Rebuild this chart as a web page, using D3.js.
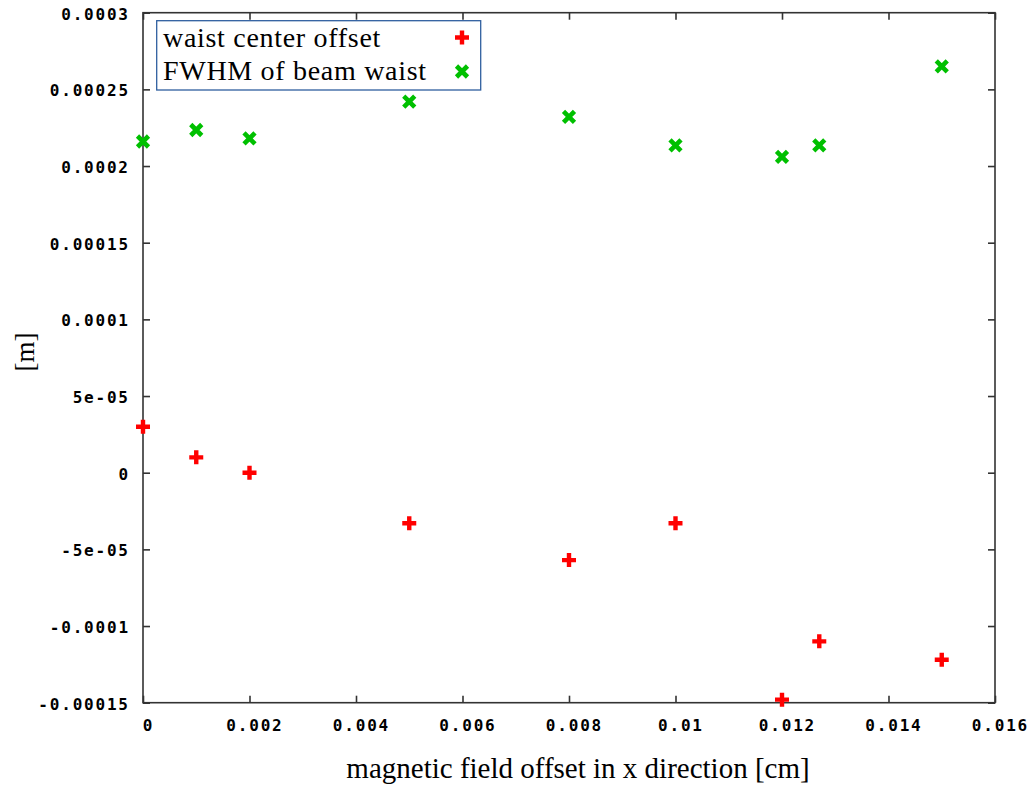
<!DOCTYPE html>
<html>
<head>
<meta charset="utf-8">
<script src="https://cdn.jsdelivr.net/npm/d3@7"></script>
<style>
  html, body { margin: 0; padding: 0; background: #fff; }
  svg { display: block; }
  .tick-label { font-family: "DejaVu Sans Mono", monospace; font-weight: bold; font-size: 16px; letter-spacing: 1.8px; fill: #000; }
  .serif { font-family: "Liberation Serif", "Times New Roman", serif; fill: #000; }
</style>
</head>
<body>
<svg id="chart" width="1031" height="788"></svg>
<script>
// magnetic field offset in x direction [cm]
const offsets = [0, 0.001, 0.002, 0.005, 0.008, 0.01, 0.012, 0.0127, 0.015];
// waist center offset [m]
const centerOffset = [3.0e-5, 1.0e-5, 0, -3.3e-5, -5.7e-5, -3.3e-5, -1.48e-4, -1.10e-4, -1.22e-4];
// FWHM of beam waist [m]
const fwhm = [2.16e-4, 2.235e-4, 2.18e-4, 2.42e-4, 2.32e-4, 2.135e-4, 2.06e-4, 2.135e-4, 2.65e-4];

const xTicks = [0, 0.002, 0.004, 0.006, 0.008, 0.01, 0.012, 0.014, 0.016];
const xTickLabels = ["0", "0.002", "0.004", "0.006", "0.008", "0.01", "0.012", "0.014", "0.016"];
const yTicks = [-0.00015, -0.0001, -0.00005, 0, 0.00005, 0.0001, 0.00015, 0.0002, 0.00025, 0.0003];
const yTickLabels = ["-0.00015", "-0.0001", "-5e-05", "0", "5e-05", "0.0001", "0.00015", "0.0002", "0.00025", "0.0003"];

const seriesNames = ["waist center offset", "FWHM of beam waist"];
const seriesColors = ["#ff0000", "#00c000"];

const svg = d3.select("#chart");
const m = { left: 143, right: 995, top: 12.7, bottom: 702.7 };

const x = d3.scaleLinear().domain([0, 0.016]).range([m.left, m.right]);
const y = d3.scaleLinear().domain([-0.00015, 0.0003]).range([m.bottom, m.top]);

const axisColor = "#333";
const tickLen = 7;

// Frame
svg.append("rect")
  .attr("x", m.left).attr("y", m.top)
  .attr("width", m.right - m.left).attr("height", m.bottom - m.top)
  .attr("fill", "none").attr("stroke", axisColor).attr("stroke-width", 1.6);

// Axes: ticks point inward, mirrored on top and right
const bottomAxis = d3.axisBottom(x).tickValues(xTicks).tickSize(-tickLen).tickFormat((d, i) => xTickLabels[i]).tickPadding(16.5);
const topAxis = d3.axisTop(x).tickValues(xTicks).tickSize(-tickLen).tickFormat("");
const leftAxis = d3.axisLeft(y).tickValues(yTicks).tickSize(-tickLen).tickFormat((d, i) => yTickLabels[i]).tickPadding(13.2);
const rightAxis = d3.axisRight(y).tickValues(yTicks).tickSize(-tickLen).tickFormat("");

function styleAxis(g) {
  g.select(".domain").remove();
  g.selectAll(".tick line").attr("stroke", axisColor).attr("stroke-width", 1.6);
  g.selectAll(".tick text").attr("class", "tick-label").attr("font-family", null).attr("font-size", null);
}

svg.append("g").attr("transform", `translate(0,${m.bottom})`).call(bottomAxis).call(styleAxis)
  .selectAll(".tick text").attr("dx", 4.9);
svg.append("g").attr("transform", `translate(0,${m.top})`).call(topAxis).call(styleAxis);
svg.append("g").attr("transform", `translate(${m.left},0)`).call(leftAxis).call(styleAxis)
  .selectAll(".tick text").attr("dy", "0.4em");
svg.append("g").attr("transform", `translate(${m.right},0)`).call(rightAxis).call(styleAxis);

// Marker shapes
function plusPath(s) {
  return `M${-s},0L${s},0M0,${-s}L0,${s}`;
}
function crossPath(s) {
  return `M${-s},${-s}L${s},${s}M${-s},${s}L${s},${-s}`;
}

const pts = svg.append("g");
pts.selectAll("path.center")
  .data(offsets.map((o, i) => [o, centerOffset[i]]))
  .join("path")
  .attr("class", "center")
  .attr("d", plusPath(7))
  .attr("transform", d => `translate(${x(d[0])},${y(d[1])})`)
  .attr("stroke", seriesColors[0]).attr("stroke-width", 4.4).attr("fill", "none");

pts.selectAll("path.fwhm")
  .data(offsets.map((o, i) => [o, fwhm[i]]))
  .join("path")
  .attr("class", "fwhm")
  .attr("d", crossPath(5.5))
  .attr("transform", d => `translate(${x(d[0])},${y(d[1])})`)
  .attr("stroke", seriesColors[1]).attr("stroke-width", 4.6).attr("fill", "none");

// Legend
const legend = svg.append("g");
legend.append("rect")
  .attr("x", 156.7).attr("y", 20.7).attr("width", 324).attr("height", 69.3)
  .attr("fill", "#fff").attr("stroke", "#2f5f9f").attr("stroke-width", 1.3);
const legendRows = [47, 80];
const legendMarkY = [37.5, 71.5];
seriesNames.forEach((name, i) => {
  legend.append("text").attr("class", "serif")
    .attr("x", 163).attr("y", legendRows[i])
    .attr("font-size", 28).attr("letter-spacing", 0.7).text(name);
  legend.append("path")
    .attr("d", i === 0 ? plusPath(7) : crossPath(5.5))
    .attr("transform", `translate(462,${legendMarkY[i]})`)
    .attr("stroke", seriesColors[i]).attr("stroke-width", i === 0 ? 4.4 : 4.6).attr("fill", "none");
});

// Axis titles
svg.append("text").attr("class", "serif")
  .attr("x", 578).attr("y", 778)
  .attr("text-anchor", "middle").attr("font-size", 29)
  .text("magnetic field offset in x direction [cm]");

svg.append("text").attr("class", "serif")
  .attr("transform", "translate(34,352) rotate(-90)")
  .attr("text-anchor", "middle").attr("font-size", 27)
  .text("[m]");
</script>
</body>
</html>
